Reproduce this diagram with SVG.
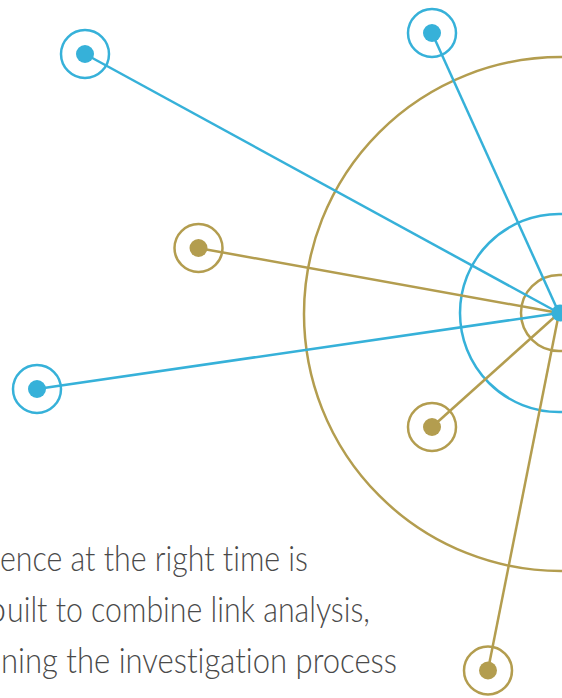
<svg xmlns="http://www.w3.org/2000/svg" width="562" height="698" viewBox="0 0 562 698">
<style>
.b{stroke:#36B1D9}
.g{stroke:#B39D4F}
.ring{fill:none;stroke-width:2.5}
.lnk{stroke-width:2.5;fill:none}
.db{fill:#36B1D9}
.dg{fill:#B39D4F}
.t{font-family:"Lato Light",Lato,"Liberation Sans",sans-serif;font-weight:300;font-size:35px;fill:#4a4a4a;font-variant-ligatures:none}
</style>
<rect width="562" height="698" fill="#fff"/>
<g id="rings">
<circle class="ring g" cx="561" cy="314" r="257"/>
<circle class="ring b" cx="559" cy="313" r="99"/>
<circle class="ring g" cx="559" cy="313" r="38"/>
</g>
<g id="connectors">
<line class="lnk b" x1="559" y1="313" x2="85" y2="54"/>
<line class="lnk b" x1="559" y1="313" x2="432" y2="33"/>
<line class="lnk g" x1="559" y1="313" x2="198" y2="248"/>
<line class="lnk b" x1="559" y1="313" x2="37" y2="389"/>
<line class="lnk g" x1="559" y1="313" x2="432" y2="427"/>
<line class="lnk g" x1="559" y1="313" x2="488" y2="670"/>
</g>
<g id="hub"><circle class="db" cx="560" cy="313" r="8.5"/></g>
<g id="n1"><circle class="ring b" cx="85" cy="54" r="24"/><circle class="db" cx="85" cy="54" r="9"/></g>
<g id="n2"><circle class="ring b" cx="432" cy="33" r="24"/><circle class="db" cx="432" cy="33" r="9"/></g>
<g id="n3"><circle class="ring g" cx="198.5" cy="248" r="24"/><circle class="dg" cx="198.5" cy="248" r="9"/></g>
<g id="n4"><circle class="ring b" cx="37" cy="389" r="24"/><circle class="db" cx="37" cy="389" r="9"/></g>
<g id="n5"><circle class="ring g" cx="432" cy="427" r="24"/><circle class="dg" cx="432" cy="427" r="9"/></g>
<g id="n6"><circle class="ring g" cx="488" cy="670.5" r="24"/><circle class="dg" cx="488" cy="670.5" r="9"/></g>
<g id="text">
<text class="t" x="0" y="571" textLength="308" lengthAdjust="spacingAndGlyphs">ence at the right time is</text>
<text class="t" x="6" y="622" text-anchor="end">b</text>
<text class="t" x="7" y="622" textLength="363" lengthAdjust="spacingAndGlyphs">uilt to combine link analysis,</text>
<text class="t" x="1" y="673" textLength="396" lengthAdjust="spacingAndGlyphs">ning the investigation process</text>
</g>
</svg>
